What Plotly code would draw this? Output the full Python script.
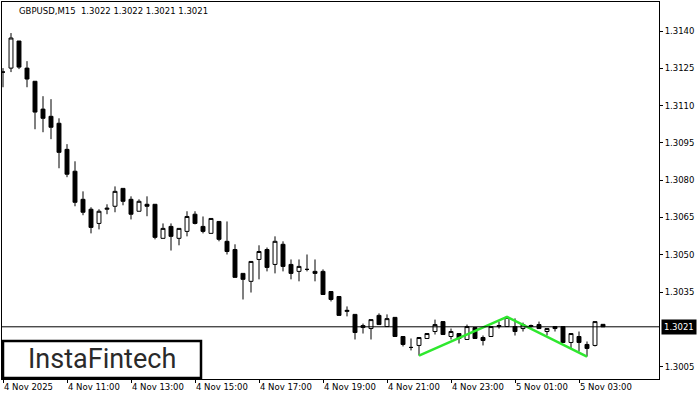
import plotly.graph_objects as go

# 15-minute candles starting 4 Nov 2025 09:00
opens = [1.31235, 1.31251, 1.31360, 1.31251, 1.31198, 1.31086, 1.31057, 1.31029, 1.30924, 1.30836,
         1.30723, 1.30683, 1.30626, 1.30683, 1.30695, 1.30767, 1.30723, 1.30675, 1.30703, 1.30703,
         1.30566, 1.30614, 1.30566, 1.30594, 1.30663, 1.30614, 1.30586, 1.30634, 1.30554, 1.30521,
         1.30425, 1.30393, 1.30481, 1.30521, 1.30461, 1.30542, 1.30461, 1.30433, 1.30441, 1.30433,
         1.30433, 1.30352, 1.30332, 1.30272, 1.30260, 1.30207, 1.30203, 1.30256, 1.30211, 1.30248,
         1.30171, 1.30127, 1.30135, 1.30163, 1.30191, 1.30231, 1.30171, 1.30183, 1.30159, 1.30207,
         1.30167, 1.30171, 1.30211, 1.30211, 1.30211, 1.30203, 1.30211, 1.30219, 1.30191, 1.30211,
         1.30211, 1.30147, 1.30171, 1.30139, 1.30135, 1.30220]
highs = [1.31251, 1.31392, 1.31360, 1.31279, 1.31198, 1.31138, 1.31126, 1.31049, 1.30945, 1.30876,
         1.30755, 1.30691, 1.30683, 1.30703, 1.30775, 1.30767, 1.30735, 1.30723, 1.30735, 1.30703,
         1.30626, 1.30626, 1.30606, 1.30675, 1.30675, 1.30654, 1.30646, 1.30634, 1.30634, 1.30542,
         1.30425, 1.30473, 1.30538, 1.30529, 1.30574, 1.30554, 1.30481, 1.30481, 1.30501, 1.30481,
         1.30441, 1.30352, 1.30332, 1.30292, 1.30260, 1.30223, 1.30239, 1.30264, 1.30260, 1.30248,
         1.30171, 1.30163, 1.30167, 1.30183, 1.30239, 1.30231, 1.30203, 1.30183, 1.30219, 1.30207,
         1.30175, 1.30211, 1.30231, 1.30252, 1.30244, 1.30227, 1.30219, 1.30231, 1.30203, 1.30211,
         1.30211, 1.30183, 1.30191, 1.30151, 1.30231, 1.30220]
lows = [1.31174, 1.31235, 1.31247, 1.31174, 1.31005, 1.30993, 1.30965, 1.30848, 1.30812, 1.30695,
        1.30659, 1.30586, 1.30602, 1.30663, 1.30671, 1.30699, 1.30642, 1.30675, 1.30655, 1.30562,
        1.30566, 1.30517, 1.30538, 1.30574, 1.30622, 1.30586, 1.30586, 1.30554, 1.30501, 1.30409,
        1.30320, 1.30348, 1.30401, 1.30433, 1.30425, 1.30433, 1.30401, 1.30393, 1.30433, 1.30393,
        1.30340, 1.30312, 1.30256, 1.30252, 1.30159, 1.30183, 1.30159, 1.30219, 1.30211, 1.30171,
        1.30131, 1.30115, 1.30094, 1.30163, 1.30179, 1.30179, 1.30159, 1.30143, 1.30159, 1.30163,
        1.30135, 1.30171, 1.30203, 1.30211, 1.30175, 1.30191, 1.30207, 1.30203, 1.30175, 1.30191,
        1.30147, 1.30123, 1.30110, 1.30090, 1.30131, 1.30210]
closes = [1.31235, 1.31372, 1.31255, 1.31207, 1.31074, 1.31049, 1.31013, 1.30912, 1.30824, 1.30711,
          1.30671, 1.30610, 1.30675, 1.30687, 1.30755, 1.30715, 1.30663, 1.30715, 1.30695, 1.30570,
          1.30606, 1.30574, 1.30606, 1.30654, 1.30626, 1.30594, 1.30646, 1.30562, 1.30513, 1.30409,
          1.30401, 1.30473, 1.30513, 1.30449, 1.30554, 1.30453, 1.30425, 1.30453, 1.30441, 1.30425,
          1.30340, 1.30320, 1.30256, 1.30276, 1.30187, 1.30215, 1.30239, 1.30219, 1.30243, 1.30171,
          1.30139, 1.30127, 1.30167, 1.30183, 1.30219, 1.30179, 1.30191, 1.30163, 1.30211, 1.30163,
          1.30155, 1.30211, 1.30215, 1.30248, 1.30191, 1.30219, 1.30215, 1.30203, 1.30203, 1.30203,
          1.30147, 1.30183, 1.30147, 1.30123, 1.30231, 1.30210]

# double top pattern line (candle index, price)
pattern_x = [52, 63, 73]
pattern_y = [1.30094, 1.30250, 1.30090]

last_price = 1.3021
tick_idx = [0, 8, 16, 24, 32, 40, 48, 56, 64, 72]
tick_text = ["4 Nov 2025", "4 Nov 11:00", "4 Nov 13:00", "4 Nov 15:00", "4 Nov 17:00",
             "4 Nov 19:00", "4 Nov 21:00", "4 Nov 23:00", "5 Nov 01:00", "5 Nov 03:00"]
# 1.3020 sits under the last-price box, so it is not listed
y_ticks = [1.3005, 1.3035, 1.3050, 1.3065, 1.3080, 1.3095, 1.3110, 1.3125, 1.3140]
y_text = ["%.4f" % v for v in y_ticks]

fnt = dict(family="DejaVu Sans", size=8.5, color="black")

fig = go.Figure()
fig.add_trace(go.Candlestick(
    x=list(range(len(opens))), open=opens, high=highs, low=lows, close=closes,
    increasing=dict(fillcolor="white", line=dict(color="black", width=1)),
    decreasing=dict(fillcolor="black", line=dict(color="black", width=1)),
    whiskerwidth=0, showlegend=False, hoverinfo="skip"))
fig.add_trace(go.Scatter(x=pattern_x, y=pattern_y, mode="lines",
                         line=dict(color="#2ee82e", width=2.5), showlegend=False))

fig.add_hline(y=last_price, line=dict(color="black", width=1))

W, H = 700, 400
l, r, t, b = 2, 41, 2, 21
pw, ph = W - l - r, H - t - b
px = lambda v: (v - l) / pw
py = lambda v: (H - b - v) / ph

# logo box
fig.add_shape(type="rect", xref="paper", yref="paper", x0=px(3), x1=px(201), y0=py(378), y1=py(341),
              line=dict(color="black", width=2.5), fillcolor="white", layer="above")
fig.add_annotation(xref="paper", yref="paper", x=px(102), y=py(359), text="InstaFintech",
                   showarrow=False, xanchor="center", yanchor="middle",
                   font=dict(family="Roboto", size=27, color="#2a2a2a"))
fig.add_annotation(xref="paper", yref="paper", x=px(17), y=py(11), text="GBPUSD,M15  1.3022 1.3022 1.3021 1.3021",
                   showarrow=False, xanchor="left", yanchor="middle", font=fnt)
fig.add_annotation(xref="paper", x=1, y=last_price, text="1.3021", showarrow=False, xanchor="left",
                   yanchor="middle", xshift=2, bgcolor="black",
                   font=dict(family="DejaVu Sans", size=8.5, color="white"), borderpad=2)

fig.update_layout(
    width=W, height=H, margin=dict(l=l, r=r, t=t, b=b, autoexpand=False),
    paper_bgcolor="white", plot_bgcolor="white", showlegend=False,
    xaxis=dict(range=[-0.125, -0.125 + pw / 8], tickvals=tick_idx, ticktext=tick_text,
               rangeslider=dict(visible=False), showgrid=False, zeroline=False, automargin=False,
               showline=True, linecolor="black", mirror=True, ticks="outside", ticklen=3,
               tickcolor="black", tickfont=fnt, ticklabelposition="outside right"),
    yaxis=dict(range=[1.30000, 1.31517], tickvals=y_ticks, ticktext=y_text, side="right",
               showgrid=False, zeroline=False, showline=True, linecolor="black", mirror=True,
               automargin=False, ticks="outside", ticklen=3, tickcolor="black", tickfont=fnt),
)

fig.write_html("out.html", config={"displayModeBar": False},
               post_script="document.body.style.margin='0';")
